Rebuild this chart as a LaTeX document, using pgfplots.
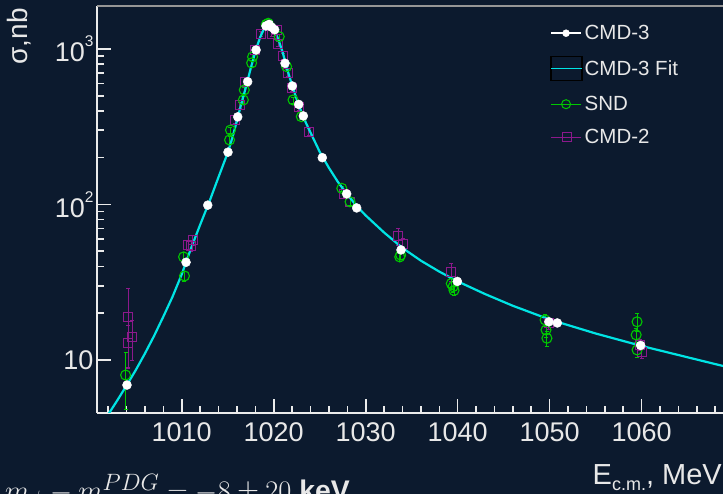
\documentclass[border=0pt]{standalone}
\usepackage[no-math]{fontspec}
\setmainfont{Liberation Sans}
\usepackage{pgfplots}
\pgfplotsset{compat=1.18}
\definecolor{bg}{RGB}{12,26,46}
\definecolor{axiscol}{RGB}{235,235,235}
\definecolor{textcol}{RGB}{232,232,232}
\definecolor{framegray}{RGB}{150,150,150}
\definecolor{fitcyan}{RGB}{0,228,228}
\definecolor{sndgreen}{RGB}{0,200,0}
\definecolor{cmdtwo}{RGB}{140,25,140}
\begin{document}
\begin{tikzpicture}[x=1pt,y=1pt]
\fill[bg] (0,0) rectangle (723,494);
\begin{axis}[
  at={(97pt,81pt)}, anchor=south west,
  width=626pt, height=407pt, scale only axis,
  xmin=1000.79, xmax=1068.84,
  ymode=log, ymin=4.56, ymax=1890,
  axis lines=left,
  axis line style={-, draw=axiscol, line width=1.6pt},
  tick align=inside,
  xtick={1010,1020,1030,1040,1050,1060},
  xticklabels={1010,1020,1030,1040,1050,1060},
  minor xtick={1002,1004,1006,1008,1012,1014,1016,1018,1022,1024,1026,1028,1032,1034,1036,1038,1042,1044,1046,1048,1052,1054,1056,1058,1062,1064,1066,1068},
  ytick={10,100,1000},
  yticklabels={10,10\raisebox{15pt}{\fontsize{15.5}{16}\selectfont 2},10\raisebox{15pt}{\fontsize{15.5}{16}\selectfont 3}},
  every tick/.style={draw=axiscol, line width=1.6pt},
  major tick length=14pt, minor tick length=7pt,
  ticklabel style={text=textcol, font=\fontsize{27}{30}\selectfont},
  x tick label style={yshift=-6pt},
  legend style={at={(0.723,0.958)}, anchor=north west, draw=none, fill=none,
    text=textcol, font=\fontsize{20.5}{22}\selectfont, inner sep=0pt,
    row sep=13pt, /tikz/every even column/.append style={column sep=18pt}},
  legend cell align=left,
  clip=true,
]
\addlegendimage{legend image code/.code={\draw[white,line width=2.5pt] (0pt,0pt) -- (30pt,0pt); \fill[white] (15pt,0pt) circle (3.5pt);}}
\addlegendentry{CMD-3}
\addlegendimage{legend image code/.code={\draw[black,line width=1.2pt] (0pt,-12pt) rectangle (31pt,12pt); \draw[fitcyan,line width=1.2pt] (0pt,0pt) -- (31pt,0pt);}}
\addlegendentry{CMD-3 Fit}
\addlegendimage{legend image code/.code={\draw[sndgreen,line width=0.9pt] (0pt,0pt) -- (30pt,0pt); \draw[sndgreen,line width=1pt] (15pt,0pt) circle (4.5pt);}}
\addlegendentry{SND}
\addlegendimage{legend image code/.code={\draw[cmdtwo,line width=0.8pt] (0pt,0pt) -- (30pt,0pt); \draw[cmdtwo,line width=0.9pt] (11pt,-4.5pt) rectangle (20pt,4.5pt);}}
\addlegendentry{CMD-2}

% CMD-2
\addplot[forget plot, only marks, mark=square, mark size=4.5pt, mark options={draw=cmdtwo, fill=none, line width=0.9pt},
  error bars/.cd, y dir=both, y explicit, error bar style={draw=cmdtwo, line width=0.8pt}, error mark options={draw=cmdtwo, mark size=2pt, rotate=90}]
coordinates {
(1004.2,19) +- (0,10)
(1004.6,14) +- (0,4)
(1004.2,12.8) +- (0,4)
(1010.7,55) +- (0,4)
(1011.2,59) +- (0,4)
(1011.0,54) +- (0,4)
(1015.8,349) +- (0,15)
(1016.3,436) +- (0,20)
(1016.9,616) +- (0,25)
(1018.0,985) +- (0,40)
(1018.6,1250) +- (0,50)
(1019.8,1250) +- (0,50)
(1020.3,1325) +- (0,50)
(1020.5,1080) +- (0,45)
(1021.0,900) +- (0,40)
(1021.5,700) +- (0,30)
(1022.0,560) +- (0,25)
(1022.7,425) +- (0,20)
(1023.8,294) +- (0,15)
(1027.6,116) +- (0,6)
(1028.3,104) +- (0,6)
(1033.5,62.7) +- (0,8)
(1034.0,55.7) +- (0,5)
(1039.3,37) +- (0,5)
(1049.9,17.2) +- (0,1.5)
(1060.0,11.3) +- (0,1)
(1059.8,12.5) +- (0,1)
};
% SND
\addplot[forget plot, only marks, mark=o, mark size=5pt, mark options={draw=sndgreen, line width=1.1pt},
  error bars/.cd, y dir=both, y explicit, error bar style={draw=sndgreen, line width=0.9pt}, error mark options={draw=sndgreen, mark size=2pt, rotate=90}]
coordinates {
(1003.9,8.0) +- (0,3.2)
(1010.2,46) +- (0,3)
(1010.3,34.7) +- (0,2.5)
(1015.3,301) +- (0,15)
(1015.2,260) +- (0,15)
(1016.8,545) +- (0,25)
(1016.7,470) +- (0,25)
(1017.7,890) +- (0,40)
(1017.6,813) +- (0,40)
(1019.4,1463) +- (0,50)
(1019.2,1440) +- (0,50)
(1020.6,1200) +- (0,50)
(1021.4,770) +- (0,30)
(1022.1,470) +- (0,20)
(1023.0,367) +- (0,15)
(1027.4,127) +- (0,5)
(1028.3,104) +- (0,5)
(1033.8,47.3) +- (0,3)
(1033.7,46) +- (0,3)
(1039.5,29.6) +- (0,2.5)
(1039.6,28) +- (0,2)
(1039.3,31) +- (0,2.5)
(1049.5,18.1) +- (0,1.5)
(1049.6,15.6) +- (0,1.5)
(1049.7,13.8) +- (0,1.5)
(1059.5,17.6) +- (0,2.4)
(1059.4,14.5) +- (0,1.5)
(1059.5,11.6) +- (0,1.2)
};
% CMD-3 fit
\addplot[forget plot, fitcyan, line width=2.2pt] coordinates {
(1002.0,4.45) (1003,5.5) (1004,6.85) (1005,8.6) (1006,11) (1007,14.3) (1008,19)
(1009,25.5) (1010,35.5) (1010.5,43) (1011,52) (1012,74) (1013,104) (1014,150)
(1015,215) (1015.5,268) (1016,345) (1016.5,450) (1017,575) (1017.5,750) (1018,960)
(1018.5,1180) (1019,1370) (1019.2,1420) (1019.4,1450) (1019.6,1440) (1019.8,1400)
(1020.2,1270) (1020.6,1110) (1021,940) (1021.5,730) (1022,585) (1022.5,475)
(1023,395) (1023.5,335) (1024,290) (1025,218) (1026,172) (1027,139) (1028,116)
(1029,98) (1030,85) (1032,66) (1034,52.5) (1036,43.5) (1038,37) (1040,32)
(1043,26.5) (1046,22.3) (1050,18.2) (1055,14.8) (1060,12.3) (1065,10.4) (1069,9.1)
};
% CMD-3
\addplot[forget plot, only marks, mark=*, mark size=4.5pt, mark options={draw=white, fill=white}]
coordinates {
(1004.05,6.9) (1010.47,42.5) (1012.83,99) (1015.03,217) (1016.09,366) (1017.17,616)
(1018.08,985) (1019.16,1406) (1019.5,1440) (1019.78,1380) (1020.1,1330)
(1021.23,809) (1022.02,578) (1022.72,440) (1023.22,371) (1025.28,200)
(1027.93,117) (1029.02,95) (1033.84,51) (1039.96,32) (1049.92,17.6) (1050.83,17.3) (1059.89,12.4)
};
\draw[framegray, line width=1.3pt] (rel axis cs:0,1) -- (rel axis cs:1,1);
\end{axis}
\node[rotate=90, anchor=base east, text=textcol, font=\fontsize{28}{30}\selectfont, inner sep=0pt] at (28,486) {σ,nb};
\node[anchor=base east, text=textcol, font=\fontsize{29}{30}\selectfont, inner sep=0pt] at (722,9) {E\raisebox{-6pt}{\fontsize{18}{18}\selectfont c.m.}, MeV};
\node[anchor=base west, text=textcol, font=\fontsize{24.88}{28}\selectfont, inner sep=0pt] at (5,-6.5) {\scalebox{1.14}{$m_\phi - m^{PDG} = -8 \pm 20$ \textbf{keV}}};
\pgfresetboundingbox
\useasboundingbox (0,0) rectangle (723,494);
\end{tikzpicture}
\end{document}
